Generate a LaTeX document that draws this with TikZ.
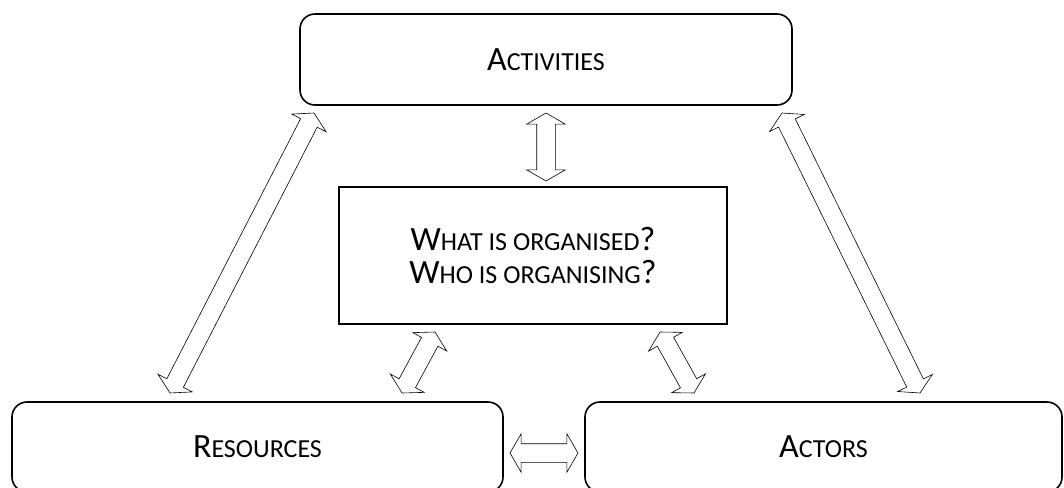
\documentclass[tikz,border=0pt]{standalone}
\usepackage{fontspec}
\setmainfont{Carlito}
\usetikzlibrary{shapes.arrows,calc}

\newcommand{\initcap}[1]{{\fontsize{34}{33}\selectfont #1}}
\newcommand{\restcap}[1]{{\fontsize{26}{33}\selectfont #1}}

\tikzset{
    roundbox/.style={draw, line width=1.6pt, rounded corners=15pt, inner sep=0pt},
    squarebox/.style={draw, line width=1.6pt, inner sep=0pt, align=center,
        font=\fontsize{26}{33}\selectfont},
    twoway/.style={draw, fill=white, line width=0.6pt, double arrow,
        double arrow head extend=10pt, double arrow tip angle=120,
        inner xsep=0pt, inner ysep=9pt, text height=0pt, text depth=0pt}
}

\begin{document}
\begin{tikzpicture}[x=1pt,y=-1pt]
                \useasboundingbox (0,0) rectangle (1064,487);
                \clip (0,0) rectangle (1064,487);

                \node[roundbox, minimum width=492pt, minimum height=91pt] (activities) at (546,59.5) {\initcap{A}\restcap{CTIVITIES}};
                \node[squarebox, minimum width=388pt, minimum height=137pt] (question) at (533,255.5)
                    {\initcap{W}\restcap{HAT IS ORGANISED}\initcap{?}\\\initcap{W}\restcap{HO IS ORGANISING}\initcap{?}};
                \node[roundbox, minimum width=491pt, minimum height=90pt] (resources) at (257.5,447) {\initcap{R}\restcap{ESOURCES}};
                \node[roundbox, minimum width=477pt, minimum height=90pt] (actors) at (823.5,447) {\initcap{A}\restcap{CTORS}};

                \coordinate (actU) at (546,113);
                \coordinate (qT) at (546,181);
                \coordinate (actL) at (314,113);
                \coordinate (resU) at (170,393);
                \coordinate (actR) at (782,113);
                \coordinate (actU2) at (920,393);
                \coordinate (qL) at (435,332);
                \coordinate (resR) at (402,393);
                \coordinate (qR) at (660,332);
                \coordinate (actL2) at (694,393);
                \coordinate (resE) at (510,453);
                \coordinate (actW) at (578,453);

                \path let \p1=($(qT)-(actU)$), \n1={atan2(\y1,\x1)}, \n2={veclen(\x1,\y1)} in
                    node[twoway, rotate=\n1, minimum height=\n2] (a1) at ($(actU)!0.5!(qT)$) {};
                \path let \p1=($(resU)-(actL)$), \n1={atan2(\y1,\x1)}, \n2={veclen(\x1,\y1)} in
                    node[twoway, rotate=\n1, minimum height=\n2] (a2) at ($(actL)!0.5!(resU)$) {};
                \path let \p1=($(actU2)-(actR)$), \n1={atan2(\y1,\x1)}, \n2={veclen(\x1,\y1)} in
                    node[twoway, rotate=\n1, minimum height=\n2] (a3) at ($(actR)!0.5!(actU2)$) {};
                \path let \p1=($(resR)-(qL)$), \n1={atan2(\y1,\x1)}, \n2={veclen(\x1,\y1)} in
                    node[twoway, rotate=\n1, minimum height=\n2] (a4) at ($(qL)!0.5!(resR)$) {};
                \path let \p1=($(actL2)-(qR)$), \n1={atan2(\y1,\x1)}, \n2={veclen(\x1,\y1)} in
                    node[twoway, rotate=\n1, minimum height=\n2] (a5) at ($(qR)!0.5!(actL2)$) {};
                \path let \p1=($(actW)-(resE)$), \n1={atan2(\y1,\x1)}, \n2={veclen(\x1,\y1)} in
                    node[twoway, rotate=\n1, minimum height=\n2] (a6) at ($(resE)!0.5!(actW)$) {};
            \end{tikzpicture}
\end{document}
